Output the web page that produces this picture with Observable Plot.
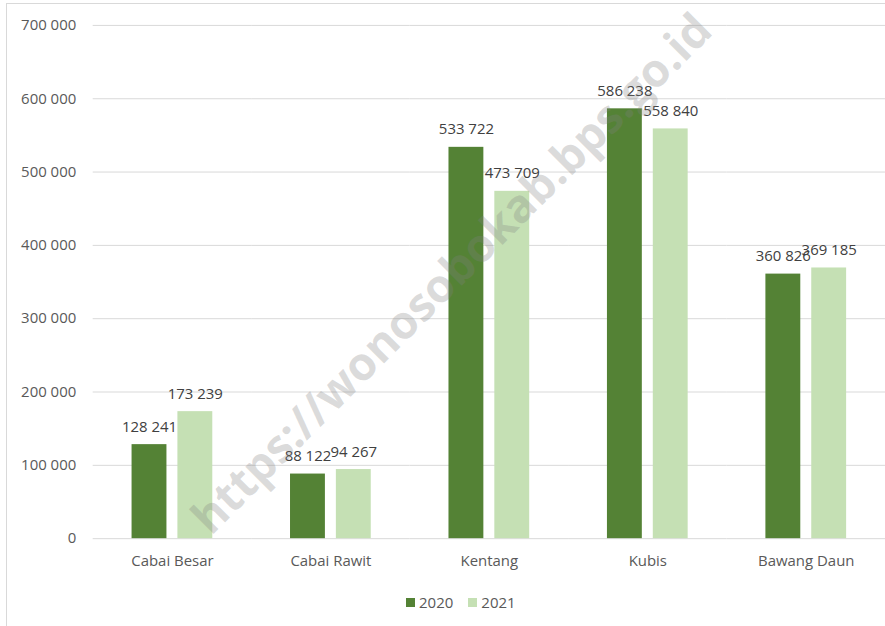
<!DOCTYPE html>
<html>
<head>
<meta charset="utf-8">
<script src="https://cdn.jsdelivr.net/npm/d3@7"></script>
<script src="https://cdn.jsdelivr.net/npm/@observablehq/plot@0.6"></script>
<style>
  html, body { margin: 0; padding: 0; background: #fff; overflow: hidden; width: 885px; height: 626px; }
  body { position: relative; font-family: "Open Sans", sans-serif; }
  #frame { position: absolute; left: 6px; top: 3px; width: 900px; height: 640px; border: 1px solid #d9d9d9; box-sizing: border-box; pointer-events: none; }
  #chart { position: absolute; left: 0; top: 0; }
  #legend { position: absolute; left: 406px; top: 592px; display: flex; align-items: center; font-size: 15px; color: #595959; }
  #legend .sw { width: 9px; height: 9px; display: inline-block; margin-right: 4px; }
  #legend .item { display: flex; align-items: center; margin-right: 15px; }
  #watermark { position: absolute; left: 450px; top: 272px; transform: translate(-50%, -50%) rotate(-45deg); white-space: nowrap; font-weight: 700; font-size: 46px; color: rgba(128,128,128,0.28); pointer-events: none; }
</style>
</head>
<body>
<div id="frame"></div>
<div id="chart"></div>
<div id="legend"></div>
<div id="watermark">https://wonosobokab.bps.go.id</div>
<script>
const categories = ["Cabai Besar", "Cabai Rawit", "Kentang", "Kubis", "Bawang Daun"];
const years = ["2020", "2021"];
const values2020 = [128241, 88122, 533722, 586238, 360826];
const values2021 = [173239, 94267, 473709, 558840, 369185];
const yTicks = [0, 100000, 200000, 300000, 400000, 500000, 600000, 700000];
const colors = ["#548235", "#C5E0B4"];

const data = [];
categories.forEach((c, i) => {
  data.push({category: c, year: years[0], value: values2020[i]});
  data.push({category: c, year: years[1], value: values2021[i]});
});

const fmt = v => d3.format(",")(v).replace(/,/g, " ");

const plot = Plot.plot({
  width: 888,
  height: 580,
  marginLeft: 93,
  marginRight: 0,
  marginTop: 25,
  marginBottom: 40,
  style: {fontFamily: "Open Sans", fontSize: "15px", background: "transparent"},
  fx: {domain: categories, paddingInner: 0, paddingOuter: 0, label: null},
  x: {domain: years, paddingInner: 0.23, paddingOuter: 0.84, axis: null},
  y: {domain: [0, 700000]},
  color: {domain: years, range: colors},
  marks: [
    Plot.gridY(yTicks, {stroke: "#d9d9d9", strokeOpacity: 1}),
    Plot.axisY(yTicks, {tickSize: 0, tickPadding: 17, tickFormat: fmt, label: null, fill: "#595959", fontSize: 15}),
    Plot.axisFx({anchor: "bottom", tickSize: 0, tickPadding: 17, label: null, fill: "#595959", fontSize: 15}),
    Plot.barY(data, {fx: "category", x: "year", y: "value", fill: "year"}),
    Plot.text(data, {fx: "category", x: "year", y: "value", text: d => fmt(d.value), lineAnchor: "bottom", dy: -13, fill: "#404040", fontSize: 15})
  ]
});
document.getElementById("chart").appendChild(plot);

const legend = document.getElementById("legend");
years.forEach((y, i) => {
  const item = document.createElement("span");
  item.className = "item";
  const sw = document.createElement("span");
  sw.className = "sw";
  sw.style.background = colors[i];
  item.appendChild(sw);
  item.appendChild(document.createTextNode(y));
  legend.appendChild(item);
});
</script>
</body>
</html>
